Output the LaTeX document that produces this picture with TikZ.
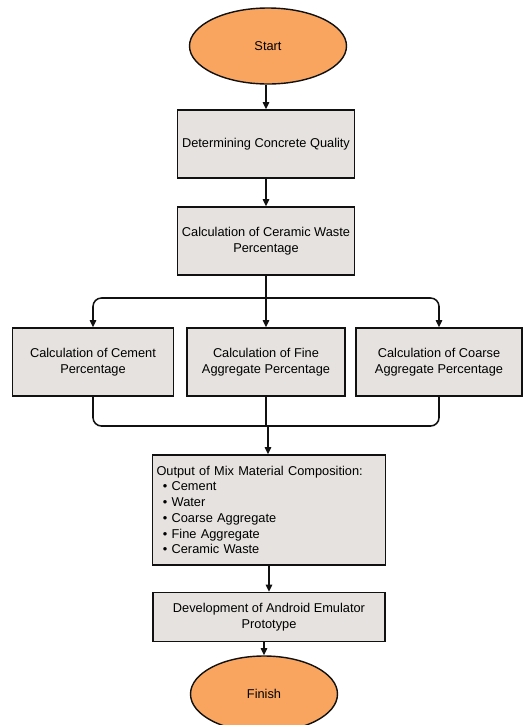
\documentclass[tikz,border=0pt]{standalone}
\usepackage{fontspec}
\setmainfont{Liberation Sans}
\usepackage{xcolor}
\usepackage{tikz}
\usetikzlibrary{calc,arrows.meta,positioning,shapes.geometric}
\definecolor{termc}{HTML}{F9A560}
\definecolor{boxc}{HTML}{E5E2DF}
\definecolor{linec}{HTML}{111111}
\tikzset{
  ar/.style={-{Triangle[length=1.8mm,width=1.6mm]},line width=1.1pt,linec},
  ln/.style={line width=1.1pt,linec},
  box/.style={draw=linec,line width=1pt,fill=boxc,align=center,inner sep=2pt,font=\fontsize{9.1}{11.2}\selectfont},
  term/.style={ellipse,draw=linec,line width=1pt,fill=termc,inner sep=0pt,font=\fontsize{9.1}{11.2}\selectfont}
}
\begin{document}
\begin{tikzpicture}[x=0.025cm,y=-0.025cm]
\useasboundingbox (0,0) rectangle (524,725);
% terminals
\node[term,minimum width=157*0.025cm,minimum height=76*0.025cm] (start) at (268,46) {Start};
\node[term,minimum width=147*0.025cm,minimum height=76*0.025cm] (finish) at (264,694) {Finish};
% main column
\node[box,minimum width=177*0.025cm,minimum height=68*0.025cm] (quality) at (266,144) {Determining Concrete Quality};
\node[box,minimum width=177*0.025cm,minimum height=68*0.025cm] (ceramic) at (266,241) {Calculation of Ceramic Waste\\Percentage};
% three calculations
\node[box,minimum width=161*0.025cm,minimum height=68*0.025cm] (cement) at (93,362) {Calculation of Cement\\Percentage};
\node[box,minimum width=158*0.025cm,minimum height=68*0.025cm] (fine) at (266,362) {Calculation of Fine\\Aggregate Percentage};
\node[box,minimum width=166*0.025cm,minimum height=68*0.025cm] (coarse) at (439,362) {Calculation of Coarse\\Aggregate Percentage};
% output and prototype
\node[box,align=left,text width=225*0.025cm,minimum height=110*0.025cm,inner sep=3pt] (output) at (269,510)
  {Output of Mix Material Composition:\\
   \hspace*{0.5em}\textbullet\ Cement\\
   \hspace*{0.5em}\textbullet\ Water\\
   \hspace*{0.5em}\textbullet\ Coarse Aggregate\\
   \hspace*{0.5em}\textbullet\ Fine Aggregate\\
   \hspace*{0.5em}\textbullet\ Ceramic Waste};
\node[box,minimum width=232*0.025cm,minimum height=49*0.025cm] (proto) at (269,617) {Development of Android Emulator\\Prototype};
\coordinate (split) at (266,298);
\coordinate (merge) at (268,426);
% connectors
\draw[ar] (start.south -| quality.north) -- (quality.north);
\draw[ar] (quality) -- (ceramic);
\draw[ar] (ceramic) -- (fine);
\draw[ar,rounded corners=6pt] (split) -| (cement.north);
\draw[ar,rounded corners=6pt] (split) -| (coarse.north);
\draw[ln,rounded corners=6pt] (cement.south) |- (merge);
\draw[ln,rounded corners=6pt] (coarse.south) |- (merge);
\draw[ln] (fine.south) -- (fine.south |- merge);
\draw[ar] (merge) -- (output.north -| merge);
\draw[ar] (output.south -| proto.north) -- (proto.north);
\draw[ar] (proto.south -| finish.north) -- (finish.north);
\end{tikzpicture}
\end{document}
